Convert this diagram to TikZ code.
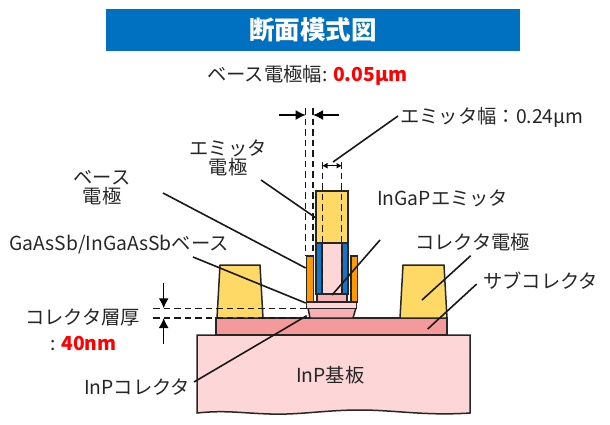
\documentclass[tikz,border=0pt]{standalone}
\usepackage{fontspec}
\usetikzlibrary{arrows.meta}
\setmainfont{Noto Sans CJK JP}
\definecolor{titleblue}{HTML}{0070C0}
\definecolor{padyellow}{HTML}{FFD966}
\definecolor{lightpink}{HTML}{FDD7D7}
\definecolor{subpink}{HTML}{F59A9A}
\definecolor{midpink}{HTML}{F7B0B4}
\definecolor{baseorange}{HTML}{FF9900}
\definecolor{spacerblue}{HTML}{1277C8}
\definecolor{labelgray}{HTML}{262626}
\tikzstyle{label}=[text=labelgray, font=\fontsize{19.3}{19}\selectfont, align=center, inner sep=0pt]
\tikzstyle{layer}=[draw=black!85, line width=1.5pt, line join=miter]
\tikzstyle{leader}=[line width=1.6pt, black!90]
\tikzstyle{guide}=[line width=1.5pt, dash pattern=on 6.5pt off 4pt, black!90]
\tikzstyle{arrow}=[line width=1.5pt, -{Latex[length=10pt, width=10pt]}, black]

\begin{document}
\begin{tikzpicture}[x=1pt, y=-1pt]
      \useasboundingbox (0, 0) rectangle (610, 424);

      \node[fill=titleblue, minimum width=414pt, minimum height=42pt, inner sep=0pt, text=white, font=\fontsize{25.5}{28}\selectfont\bfseries] (title) at (313, 30) {断面模式図};
      \node[label, anchor=west] (basewidth) at (207, 75) {ベース電極幅: \textcolor{red}{\textbf{0.05μm}}};

      % substrate and pads
      \draw[layer, fill=lightpink] (197, 413) -- (197, 335) -- (470, 335) -- (470, 413)
        .. controls (425, 416) and (395, 410) .. (360, 410)
        .. controls (325, 410) and (300, 415) .. (270, 414)
        .. controls (240, 413) and (225, 410) .. (197, 413) -- cycle;
      \draw[layer, fill=subpink] (216, 318) rectangle (447, 335);
      \draw[layer, fill=padyellow] (220, 265) -- (260, 265) -- (263, 318) -- (217, 318) -- cycle;
      \draw[layer, fill=padyellow] (403, 265) -- (444, 265) -- (447, 318) -- (400, 318) -- cycle;

      % mesa
      \draw[layer, fill=midpink] (308, 308) -- (356, 308) -- (353, 318) -- (310, 318) -- cycle;
      \draw[layer, fill=lightpink] (306.5, 302) rectangle (356.5, 308.5);
      \draw[layer, fill=midpink] (317, 294) rectangle (347, 302);
      \draw[layer, fill=spacerblue] (316, 243) rectangle (322, 294);
      \draw[layer, fill=spacerblue] (342, 243) rectangle (348, 294);
      \draw[layer, fill=lightpink] (322, 243) rectangle (342, 294);
      \draw[layer, fill=padyellow] (316, 191) rectangle (348, 243);
      \draw[layer, fill=baseorange] (306.5, 256) rectangle (313.5, 302);
      \draw[layer, fill=baseorange] (351, 256) rectangle (357.5, 302);

      % guides
      \draw[guide] (305.7, 108) -- (305.7, 256);
      \draw[guide] (313, 108) -- (313, 256);
      \draw[guide] (322.7, 162) -- (322.7, 293);
      \draw[guide] (341.5, 162) -- (341.5, 293);
      \draw[guide] (153, 308.3) -- (306, 308.3);
      \draw[guide] (153, 318) -- (310, 318);

      % dimension arrows
      \coordinate (bwl) at (279, 115);
      \coordinate (bwr) at (339, 115);
      \coordinate (bwla) at (305.7, 115);
      \coordinate (bwra) at (313, 115);
      \draw[arrow] (bwl) to (bwla);
      \draw[arrow] (bwr) to (bwra);
      \coordinate (ewl) at (322, 165.7);
      \coordinate (ewr) at (342, 165.7);
      \draw[line width=1.5pt, {Latex[length=5.5pt, width=6pt]}-{Latex[length=5.5pt, width=6pt]}, black] (ewl) to (ewr);
      \coordinate (ctt) at (163.7, 283);
      \coordinate (cta) at (163.7, 308.3);
      \coordinate (ctb) at (163.7, 344);
      \coordinate (ctc) at (163.7, 318);
      \draw[arrow] (ctt) to (cta);
      \draw[arrow] (ctb) to (ctc);

      % labels
      \node[label, anchor=west] (emitwidth) at (400, 117) {エミッタ幅：0.24μm};
      \node[label] (emitelec) at (228, 158) {エミッタ\\電極};
      \node[label] (baseelec) at (102, 188) {ベース\\電極};
      \node[label, anchor=west] (baselayer) at (9, 245) {GaAsSb/InGaAsSbベース};
      \node[label, anchor=west] (ingap) at (377, 198) {InGaPエミッタ};
      \node[label, anchor=west] (colelec) at (415, 242) {コレクタ電極};
      \node[label, anchor=west] (subcol) at (483, 281) {サブコレクタ};
      \node[label, anchor=west] (colthick) at (25, 317) {コレクタ層厚};
      \node[label, anchor=west] (colvalue) at (50, 343) {: \textcolor{red}{\textbf{40nm}}};
      \node[label, anchor=west] (incol) at (84, 387) {InPコレクタ};
      \node[label, anchor=west] (insub) at (296, 375) {InP基板};

      % leaders
      \coordinate (p1) at (398, 116);
      \coordinate (p1e) at (333, 162);
      \coordinate (p2) at (261, 180);
      \coordinate (p2e) at (316, 218);
      \coordinate (p3) at (163, 193);
      \coordinate (p3e) at (305.7, 268);
      \coordinate (p4) at (193, 257);
      \coordinate (p4e) at (305.7, 303);
      \coordinate (p5) at (380, 240);
      \coordinate (p5e) at (332, 295);
      \coordinate (p6) at (470.7, 255.7);
      \coordinate (p6e) at (422, 300);
      \coordinate (p7) at (476.7, 284);
      \coordinate (p7e) at (427.7, 329);
      \coordinate (p8) at (194, 382);
      \coordinate (p8e) at (306.7, 315.7);
      \draw[leader] (p1) to (p1e);
      \draw[leader] (p2) to (p2e);
      \draw[leader] (p3) to (p3e);
      \draw[leader] (p4) to (p4e);
      \draw[leader] (p5) to (p5e);
      \draw[leader] (p6) to (p6e);
      \draw[leader] (p7) to (p7e);
      \draw[leader] (p8) to (p8e);
    \end{tikzpicture}
\end{document}
